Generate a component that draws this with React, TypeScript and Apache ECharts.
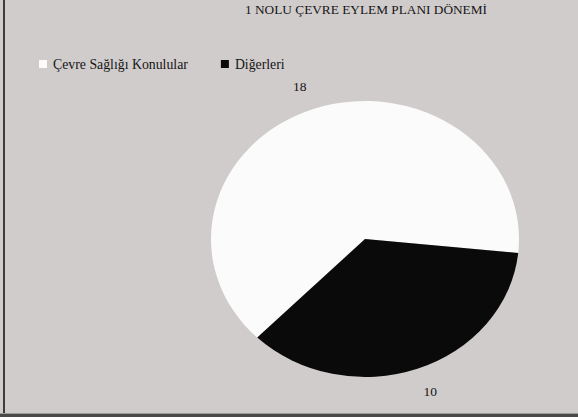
import React, { useEffect, useRef } from "react";
import * as echarts from "echarts";

const titleText = "1 NOLU ÇEVRE EYLEM PLANI DÖNEMİ";
const categories = ["Çevre Sağlığı Konulular", "Diğerleri"];
const values = [18, 10];
const colors = ["#fbfbfb", "#0a0a0a"];

export default function App() {
  const ref = useRef<HTMLDivElement>(null);
  useEffect(() => {
    if (!ref.current) return;
    const chart = echarts.init(ref.current, null, { renderer: "svg" });
    const total = values.reduce((a, b) => a + b, 0);
    const cx = 365;
    const cy = 239;
    const rx = 154;
    const ry = 138;
    const startDeg = -225.6;
    const font = "'Liberation Serif', 'Times New Roman', serif";

    const series = categories.map((name, si) => ({
      type: "custom",
      name,
      coordinateSystem: "none",
      itemStyle: { color: colors[si] },
      data: [values[si]],
      renderItem: (params: any, api: any) => {
        const v = api.value(0);
        let before = 0;
        for (let k = 0; k < si; k++) before += values[k];
        const a0 = ((startDeg + (before / total) * 360) * Math.PI) / 180;
        const a1 = a0 + (v / total) * Math.PI * 2;
        const mid = (a0 + a1) / 2;
        const lx = cx + (rx + 38) * Math.cos(mid);
        const ly = cy + (ry + 24) * Math.sin(mid);
        return {
          type: "group",
          children: [
            {
              type: "sector",
              x: cx,
              y: cy,
              scaleY: ry / rx,
              shape: { cx: 0, cy: 0, r0: 0, r: rx, startAngle: a0, endAngle: a1, clockwise: true },
              style: { fill: colors[si], stroke: "none" },
            },
            {
              type: "text",
              x: lx,
              y: ly,
              style: {
                text: String(v),
                fill: "#151515",
                font: `13.5px ${font}`,
                align: "center",
                verticalAlign: "middle",
                textAlign: "center",
                textVerticalAlign: "middle",
              },
            },
          ],
        };
      },
    }));

    chart.setOption({
      animation: false,
      backgroundColor: "#d1cccc",
      title: {
        text: titleText,
        left: 366,
        top: 3,
        textAlign: "center",
        padding: 0,
        textStyle: { fontFamily: font, fontSize: 13.3, fontWeight: "normal", color: "#151515" },
      },
      legend: {
        data: categories,
        left: 39,
        top: 57,
        padding: 0,
        icon: "rect",
        itemWidth: 8,
        itemHeight: 8,
        itemGap: 33,
        selectedMode: false,
        textStyle: { fontFamily: font, fontSize: 13.8, color: "#151515", padding: [0, 0, 0, 1] },
      },
      graphic: [
        { type: "rect", shape: { x: 3, y: 0, width: 2, height: 417 }, style: { fill: "#3c3c3c" } },
        { type: "rect", shape: { x: 0, y: 413, width: 578, height: 1 }, style: { fill: "#9a9a9a" } },
        { type: "rect", shape: { x: 0, y: 414, width: 578, height: 3 }, style: { fill: "#4a4a4a" } },
      ],
      series,
    });
    return () => chart.dispose();
  }, []);
  return (
    <div
      ref={ref}
      style={{ position: "absolute", left: 0, top: 0, width: 578, height: 417 }}
    />
  );
}
